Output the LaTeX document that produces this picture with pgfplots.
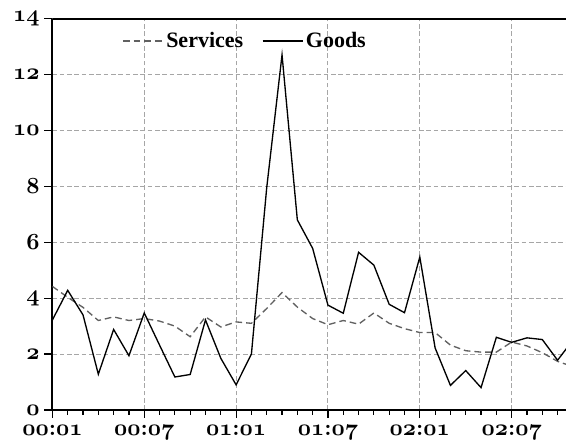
\documentclass[border=0pt]{standalone}
\usepackage{fontspec}
\newfontfamily\legfont{Liberation Serif}
\usepackage{pgfplots}
\usepackage{pgfplotstable}
\pgfplotsset{compat=1.18}
\newcommand\osn[1]{{\usefont{OML}{cmm}{b}{it}#1}}
\newcommand\xl[2]{\osn{#1}\textbf{:}\osn{#2}}
\pgfplotstableread{
idx services goods
0  4.42 3.22
1  4.03 4.28
2  3.67 3.40
3  3.20 1.28
4  3.33 2.88
5  3.20 1.94
6  3.27 3.47
7  3.18 2.32
8  3.00 1.18
9  2.62 1.27
10 3.33 3.22
11 2.97 1.85
12 3.15 0.90
13 3.10 2.00
14 3.63 7.95
15 4.20 12.70
16 3.68 6.80
17 3.27 5.78
18 3.05 3.75
19 3.20 3.46
20 3.07 5.64
21 3.47 5.18
22 3.10 3.78
23 2.91 3.48
24 2.77 5.47
25 2.77 2.22
26 2.32 0.88
27 2.12 1.41
28 2.07 0.80
29 2.07 2.60
30 2.43 2.42
31 2.29 2.58
32 2.05 2.52
33 1.74 1.78
34 1.55 2.50
}\datatable
\begin{document}
\begin{tikzpicture}
\begin{axis}[
  scale only axis, width=385.2pt, height=293.6pt,
  xmin=0, xmax=33.55, ymin=0, ymax=14,
  axis x line*=bottom, axis y line*=left,
  axis line style={line width=1.5pt, black},
  xtick={0,6,12,18,24,30},
  minor xtick={0,...,33},
  xticklabels={\xl{00}{01},\xl{00}{07},\xl{01}{01},\xl{01}{07},\xl{02}{01},\xl{02}{07}},
  ytick={0,2,4,6,8,10,12,14},
  yticklabels={\osn{0},\osn{2},\osn{4},\osn{6},\osn{8},\osn{10},\osn{12},\osn{14}},
  tick label style={font=\fontsize{17.28}{20}\selectfont},
  xticklabel style={yshift=-2pt},
  tick align=outside,
  major tick length=6pt, minor tick length=3.75pt,
  tick style={black, line width=0.9pt},
  grid=major,
  major grid style={draw=black!35, dash pattern=on 3.5pt off 2pt, line width=0.7pt},
  legend style={at={(rel axis cs:0.1355,0.9425)}, anchor=west, draw=none, fill=none,
    inner sep=0pt, font=\legfont\bfseries\fontsize{16.5}{18}\selectfont,
    /tikz/every even column/.append style={column sep=12pt}},
  legend columns=2,
  legend image code/.code={\draw[#1] (0pt,0pt) -- (30pt,0pt);},
]
\addplot[color=black!62, line width=1pt, dash pattern=on 5pt off 3pt] table[x=idx, y=services] {\datatable};
\addlegendentry{Services}
\addplot[color=black, line width=1pt] table[x=idx, y=goods] {\datatable};
\addlegendentry{Goods}
\draw[line width=1.5pt, black] (rel axis cs:0,1) -- (rel axis cs:1,1);
\end{axis}
\pgfresetboundingbox
\useasboundingbox (-39.3pt,-23.25pt) rectangle (385.2pt,307.5pt);
\end{tikzpicture}
\end{document}
